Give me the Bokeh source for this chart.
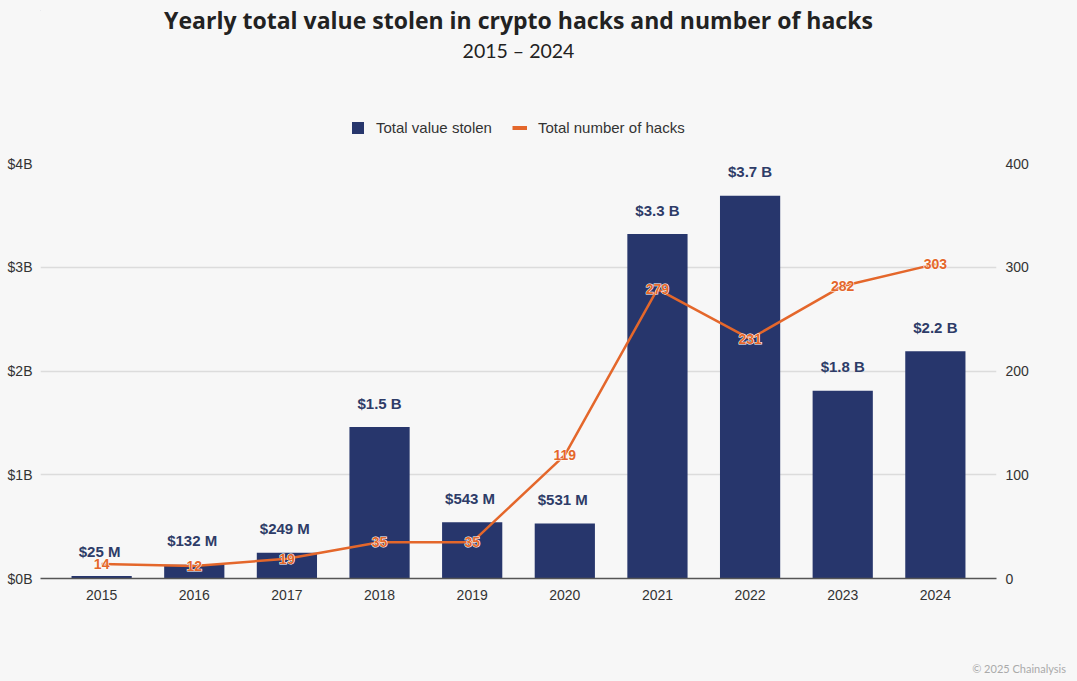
from bokeh.plotting import figure
from bokeh.layouts import column
from bokeh.models import (ColumnDataSource, FactorRange, Range1d, LinearAxis, Div,
                          Legend, LegendItem, FixedTicker, CustomJSTickFormatter)
from bokeh.core.properties import value
from bokeh.embed import file_html
from bokeh.resources import INLINE

# ---- data ----
years = ["2015", "2016", "2017", "2018", "2019", "2020", "2021", "2022", "2023", "2024"]
value_stolen_b = [0.025, 0.132, 0.249, 1.46, 0.543, 0.531, 3.32, 3.69, 1.81, 2.19]
value_labels = ["$25  M", "$132  M", "$249  M", "$1.5 B", "$543  M", "$531  M",
                "$3.3 B", "$3.7 B", "$1.8 B", "$2.2 B"]
num_hacks = [14, 12, 19, 35, 35, 119, 279, 231, 282, 303]
left_ticks = [0, 1, 2, 3, 4]
right_ticks = [0, 100, 200, 300, 400]
title_text = "Yearly total value stolen in crypto hacks and number of hacks"
subtitle_text = "2015 \u2013 2024"
footer_text = "\u00a9 2025 Chainalysis"

BAR = "#27366c"
ORANGE = "#e4672b"
BG = "#f7f7f7"
TXT = "#333333"
NAVY_TXT = "#2e3c68"
AX_FONT = "Liberation Sans"

W = 1061
HEAD_H = 153
MAIN_H = 475
FOOT_H = 47
FRAME_L, FRAME_R = 40, 996
HEAD_TOP = 10

src = ColumnDataSource(dict(
    year=years, val=value_stolen_b, vlab=value_labels,
    hacks=num_hacks, hlab=[str(h) for h in num_hacks],
))

# ---- header: title, subtitle, legend (frame aligned with the chart frame) ----
head = figure(width=W, height=HEAD_H, x_range=Range1d(FRAME_L, FRAME_R),
              y_range=Range1d(HEAD_H, HEAD_TOP), output_backend="svg", toolbar_location=None,
              x_axis_type=None, y_axis_type=None,
              min_border_left=FRAME_L, min_border_right=W - FRAME_R,
              min_border_top=HEAD_TOP, min_border_bottom=0,
              background_fill_color=BG, border_fill_color=BG, outline_line_color=None)
head.xgrid.visible = False
head.ygrid.visible = False
head.text(x=[518], y=[19.5], text=[title_text], text_align="center", text_baseline="alphabetic",
          text_font=value("Open Sans"), text_font_style="bold", text_font_size="23px",
          text_color="#222222")
head.text(x=[518], y=[49.5], text=[subtitle_text], text_align="center", text_baseline="alphabetic",
          text_font=value("Lato"), text_font_size="19.5px", text_color="#222222")
# legend swatches (drawn off-screen; only their legend glyphs are visible)
lg_bar = head.vbar(x=[-1000], top=[-1000], width=1, fill_color=BAR, line_color=None)
lg_line = head.line(x=[-1000, -900], y=[-1000, -1000], line_color=ORANGE, line_width=4)
legend = Legend(items=[LegendItem(label="Total value stolen", renderers=[lg_bar]),
                       LegendItem(label="Total number of hacks", renderers=[lg_line])],
                orientation="horizontal", location=(310, 17),
                glyph_width=15, glyph_height=15, label_standoff=11, spacing=20,
                padding=0, margin=0, border_line_color=None, background_fill_alpha=0,
                label_text_font=AX_FONT, label_text_font_size="15px",
                label_text_color=TXT, label_height=15)
head.add_layout(legend, "center")

# ---- main chart ----
p = figure(x_range=FactorRange(*years, range_padding=0.16, range_padding_units="absolute"),
           y_range=Range1d(0, 4),
           width=W, height=MAIN_H, output_backend="svg", toolbar_location=None,
           min_border_left=FRAME_L, min_border_right=W - FRAME_R,
           min_border_top=10, min_border_bottom=50,
           background_fill_color=BG, border_fill_color=BG, outline_line_color=None)
p.extra_y_ranges = {"hacks": Range1d(0, 400)}

p.xgrid.grid_line_color = None
p.ygrid.grid_line_color = "#dcdcdc"
p.ygrid.grid_line_width = 1.5
p.ygrid.ticker = FixedTicker(ticks=left_ticks)

ya = p.yaxis[0]
ya.ticker = FixedTicker(ticks=left_ticks)
ya.formatter = CustomJSTickFormatter(code="return '$' + tick.toFixed(0) + 'B';")
ya.axis_line_color = None
ya.major_tick_line_color = None
ya.minor_tick_line_color = None
ya.major_label_standoff = 2
ya.major_label_text_font = AX_FONT
ya.major_label_text_font_size = "14px"
ya.major_label_text_color = TXT

ra = LinearAxis(y_range_name="hacks", ticker=FixedTicker(ticks=right_ticks))
ra.axis_line_color = None
ra.major_tick_line_color = None
ra.minor_tick_line_color = None
ra.major_label_standoff = 3
ra.major_label_text_font = AX_FONT
ra.major_label_text_font_size = "14px"
ra.major_label_text_color = TXT
p.add_layout(ra, "right")

xa = p.xaxis[0]
xa.axis_line_color = "#555555"
xa.axis_line_width = 1.5
xa.major_tick_line_color = None
xa.minor_tick_line_color = None
xa.major_label_standoff = 5
xa.major_label_text_font = AX_FONT
xa.major_label_text_font_size = "14px"
xa.major_label_text_color = TXT

p.vbar(x="year", top="val", width=0.65, source=src, fill_color=BAR, line_color=None)
p.text(x="year", y="val", text="vlab", source=src, y_offset=-24,
       text_align="center", text_baseline="alphabetic",
       text_font=value(AX_FONT), text_font_style="bold", text_font_size="15px",
       text_color=NAVY_TXT)

p.line(x="year", y="hacks", y_range_name="hacks", source=src,
       line_color=ORANGE, line_width=2.5)
# white halo, then orange label on top
p.text(x="year", y="hacks", text="hlab", y_range_name="hacks", source=src,
       text_align="center", text_baseline="middle",
       text_font=value(AX_FONT), text_font_style="bold", text_font_size="14px",
       text_color="white", text_outline_color="white")
p.text(x="year", y="hacks", text="hlab", y_range_name="hacks", source=src,
       text_align="center", text_baseline="middle",
       text_font=value(AX_FONT), text_font_style="bold", text_font_size="14px",
       text_color=ORANGE)

# ---- footer ----
foot = Div(text=footer_text, width=W, height=FOOT_H,
           styles={"text-align": "right", "font-family": "Lato", "font-size": "11px",
                   "color": "#aaaaaa", "padding-top": "28px", "padding-right": "0px",
                   "box-sizing": "border-box", "width": f"{W}px",
                   "background-color": BG})

layout = column(head, p, foot, spacing=0)

html = file_html(layout, INLINE)
html = html.replace("</head>", "<style>html, body { background-color: #f7f7f7; }</style></head>", 1)
open("out.html", "w").write(html)
